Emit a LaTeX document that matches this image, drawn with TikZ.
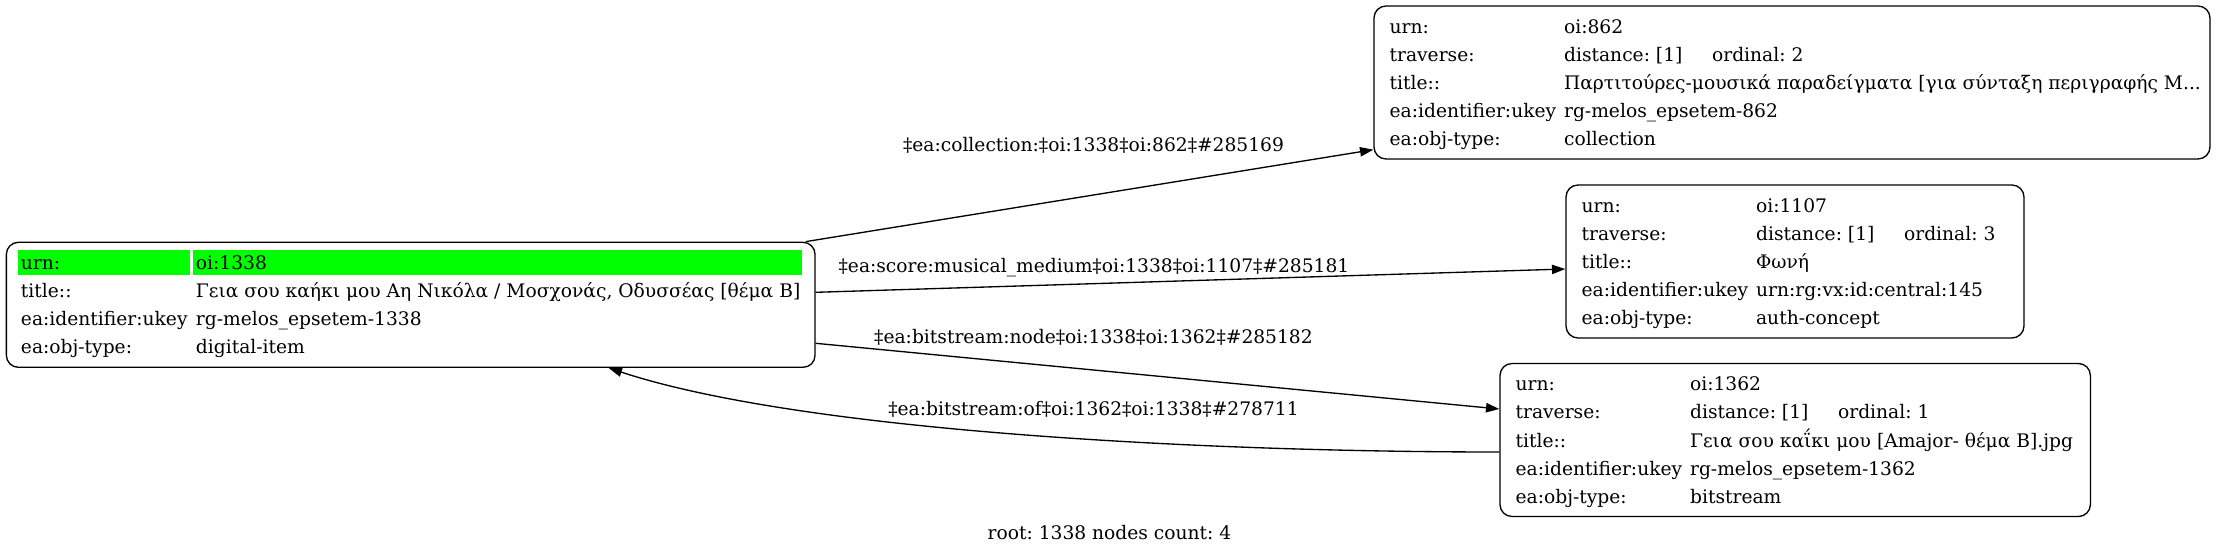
\documentclass[tikz,border=0pt]{standalone}
\usepackage{fontspec}
\setmainfont{DejaVu Serif}
\usetikzlibrary{arrows.meta,calc}
\definecolor{hilite}{HTML}{00FF00}
\frenchspacing

\tikzset{
	rec/.style={draw, rounded corners=9pt, line width=1pt, inner sep=0pt},
	txt/.style={anchor=base west, inner sep=0pt, font=\fontsize{14}{17}\selectfont},
	lbl/.style={anchor=base, inner sep=0pt, font=\fontsize{14}{17}\selectfont},
	rel/.style={line width=1pt, -{Triangle[length=10pt,width=7pt]}}
}

\begin{document}
\begin{tikzpicture}[x=0.75pt,y=-0.75pt]
	\useasboundingbox (0,0) rectangle (2221,553);
	% boxes
	\node[rec, minimum width=606.5pt, minimum height=93.75pt] (n1338) at (410.7,304.8) {};
	\node[rec, minimum width=627pt, minimum height=114.75pt] (n862) at (1792,82.5) {};
	\node[rec, minimum width=343.5pt, minimum height=114.75pt] (n1107) at (1795,261.5) {};
	\node[rec, minimum width=442.8pt, minimum height=114.75pt] (n1362) at (1795.2,440) {};
	% root
	\fill[hilite] ($(n1338.north west)+(12,8.4)$) rectangle ($(n1338.north west)+(184,33.4)$);
	\fill[hilite] ($(n1338.north west)+(187.5,8.4)$) rectangle ($(n1338.north west)+(796.5,33.4)$);
	\node[txt] (r1a) at ($(n1338.north west)+(15,28)$) {urn:};
	\node[txt] (r1b) at ($(n1338.north west)+(190,28)$) {oi:1338};
	\node[txt] (r2a) at ($(n1338.north west)+(15,56.1)$) {title::};
	\node[txt] (r2b) at ($(n1338.north west)+(190,56.1)$) {Γεια σου καήκι μου Αη Νικόλα / Μοσχονάς, Οδυσσέας [θέμα Β]};
	\node[txt] (r3a) at ($(n1338.north west)+(15,84.2)$) {ea:identifier:ukey};
	\node[txt] (r3b) at ($(n1338.north west)+(190,84.2)$) {rg-melos\_epsetem-1338};
	\node[txt] (r4a) at ($(n1338.north west)+(15,112.3)$) {ea:obj-type:};
	\node[txt] (r4b) at ($(n1338.north west)+(190,112.3)$) {digital-item};
	% 862
	\node[txt] (c1a) at ($(n862.north west)+(16,28)$) {urn:};
	\node[txt] (c1b) at ($(n862.north west)+(190.5,28)$) {oi:862};
	\node[txt] (c2a) at ($(n862.north west)+(16,56.1)$) {traverse:};
	\node[txt] (c2b) at ($(n862.north west)+(190.5,56.1)$) {distance: [1]};
	\node[txt] (c2c) at ($(n862.north west)+(338.5,56.1)$) {ordinal: 2};
	\node[txt] (c3a) at ($(n862.north west)+(16,84.2)$) {title::};
	\node[txt] (c3b) at ($(n862.north west)+(190.5,84.2)$) {Παρτιτούρες-μουσικά παραδείγματα [για σύνταξη περιγραφής Μ...};
	\node[txt] (c4a) at ($(n862.north west)+(16,112.3)$) {ea:identifier:ukey};
	\node[txt] (c4b) at ($(n862.north west)+(190.5,112.3)$) {rg-melos\_epsetem-862};
	\node[txt] (c5a) at ($(n862.north west)+(16,140.4)$) {ea:obj-type:};
	\node[txt] (c5b) at ($(n862.north west)+(190.5,140.4)$) {collection};
	% 1107
	\node[txt] (m1a) at ($(n1107.north west)+(16,28)$) {urn:};
	\node[txt] (m1b) at ($(n1107.north west)+(190.5,28)$) {oi:1107};
	\node[txt] (m2a) at ($(n1107.north west)+(16,56.1)$) {traverse:};
	\node[txt] (m2b) at ($(n1107.north west)+(190.5,56.1)$) {distance: [1]};
	\node[txt] (m2c) at ($(n1107.north west)+(338.5,56.1)$) {ordinal: 3};
	\node[txt] (m3a) at ($(n1107.north west)+(16,84.2)$) {title::};
	\node[txt] (m3b) at ($(n1107.north west)+(190.5,84.2)$) {Φωνή};
	\node[txt] (m4a) at ($(n1107.north west)+(16,112.3)$) {ea:identifier:ukey};
	\node[txt] (m4b) at ($(n1107.north west)+(190.5,112.3)$) {urn:rg:vx:id:central:145};
	\node[txt] (m5a) at ($(n1107.north west)+(16,140.4)$) {ea:obj-type:};
	\node[txt] (m5b) at ($(n1107.north west)+(190.5,140.4)$) {auth-concept};
	% 1362
	\node[txt] (b1a) at ($(n1362.north west)+(16,28)$) {urn:};
	\node[txt] (b1b) at ($(n1362.north west)+(190.5,28)$) {oi:1362};
	\node[txt] (b2a) at ($(n1362.north west)+(16,56.1)$) {traverse:};
	\node[txt] (b2b) at ($(n1362.north west)+(190.5,56.1)$) {distance: [1]};
	\node[txt] (b2c) at ($(n1362.north west)+(338.5,56.1)$) {ordinal: 1};
	\node[txt] (b3a) at ($(n1362.north west)+(16,84.2)$) {title::};
	\node[txt] (b3b) at ($(n1362.north west)+(190.5,84.2)$) {Γεια σου καΐκι μου [Amajor- θέμα Β].jpg};
	\node[txt] (b4a) at ($(n1362.north west)+(16,112.3)$) {ea:identifier:ukey};
	\node[txt] (b4b) at ($(n1362.north west)+(190.5,112.3)$) {rg-melos\_epsetem-1362};
	\node[txt] (b5a) at ($(n1362.north west)+(16,140.4)$) {ea:obj-type:};
	\node[txt] (b5b) at ($(n1362.north west)+(190.5,140.4)$) {bitstream};
	% edges
	\draw[rel] ($(n1338.north east)+(-10,0)$) -- ($(n862.south west)+(0,-10)$);
	\draw[rel] ($(n1338.east)+(0,-12.5)$) -- ($(n1107.west)+(0,7.5)$);
	\draw[rel] ($(n1338.east)+(0,38.5)$) -- ($(n1362.west)+(0,-31)$);
	\draw[rel] ($(n1362.west)+(0,12)$) .. controls +(-300,0) and +(191,63) .. ($(n1338.south)+(198,0)$);
	\node[lbl] (e1) at (1093.5,151.5) {‡ea:collection:‡oi:1338‡oi:862‡\#285169};
	\node[lbl] (e2) at (1094,272.5) {‡ea:score:musical\_medium‡oi:1338‡oi:1107‡\#285181};
	\node[lbl] (e3) at (1093.5,343.5) {‡ea:bitstream:node‡oi:1338‡oi:1362‡\#285182};
	\node[lbl] (e4) at (1093.5,415.5) {‡ea:bitstream:of‡oi:1362‡oi:1338‡\#278711};
	\node[lbl] (foot) at (1109.5,539.5) {root: 1338 nodes count: 4};
\end{tikzpicture}
\end{document}
